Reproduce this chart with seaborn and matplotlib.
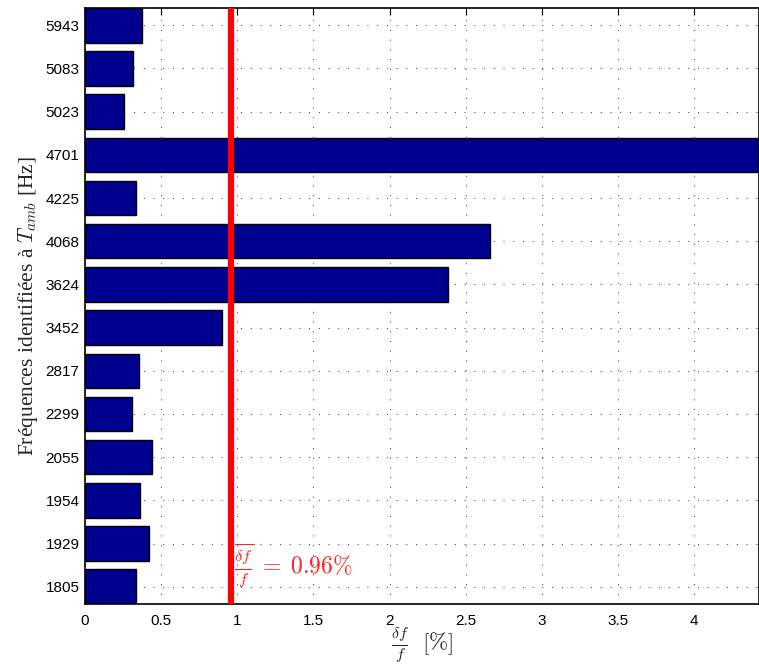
import matplotlib
matplotlib.use("Agg")
import matplotlib.pyplot as plt
import seaborn as sns
import pandas as pd

# frequencies identified at ambient temperature (top to bottom)
freqs = ['5943', '5083', '5023', '4701', '4225', '4068', '3624',
         '3452', '2817', '2299', '2055', '1954', '1929', '1805']
# relative frequency shift delta f / f in %
shift = [0.373, 0.318, 0.259, 4.8, 0.333, 2.66, 2.38,
         0.898, 0.357, 0.306, 0.44, 0.361, 0.418, 0.335]
mean_shift = 0.96

df = pd.DataFrame({'freq': freqs, 'shift': shift})

sns.set_style('white')
plt.rcParams['font.family'] = ['Liberation Sans', 'DejaVu Sans']
plt.rcParams['mathtext.fontset'] = 'cm'

fig = plt.figure(figsize=(7.59, 6.70), dpi=100)
ax = fig.add_axes([85 / 759, 1 - 604 / 670, 1 - 85 / 759, (604 - 8) / 670])

sns.barplot(data=df, x='shift', y='freq', order=freqs, orient='h',
            color='#00008F', saturation=1, width=0.8,
            edgecolor='black', linewidth=1.0, ax=ax, zorder=2)

ax.axvline(mean_shift, color='#FF0000', lw=4.5, zorder=3)
ax.text(mean_shift + 0.015, 12.5,
        r'$\overline{\frac{\delta f}{f}}\;=\;0.96\%$',
        color='#FF2020', fontsize=17, va='center', ha='left', zorder=4)

ax.set_xlim(0, 4.425)
ax.set_ylim(13.4, -0.4)
ax.set_xticks([0, 0.5, 1, 1.5, 2, 2.5, 3, 3.5, 4])
ax.set_xticklabels(['0', '0.5', '1', '1.5', '2', '2.5', '3', '3.5', '4'])

ax.grid(True, color='#333333', linestyle=(0, (1, 9)), linewidth=0.7, zorder=0)
ax.set_axisbelow(True)
ax.tick_params(axis='both', direction='in', length=5, width=0.8,
               labelsize=11, top=True, right=False, colors='black')
ax.tick_params(axis='x', pad=7)
ax.tick_params(axis='y', pad=4)
for side in ['left', 'bottom', 'top', 'right']:
    ax.spines[side].set_color('black')
    ax.spines[side].set_linewidth(1.2)

ax.set_xlabel(r'$\frac{\delta f}{f}\ \ [\%]$', fontsize=16.5, labelpad=-2)
ax.set_ylabel(r'Fréquences identifiées à $T_{amb}$ [Hz]',
              fontsize=15.5, family='Liberation Serif', labelpad=4)

fig.savefig('out.png', dpi=100)
